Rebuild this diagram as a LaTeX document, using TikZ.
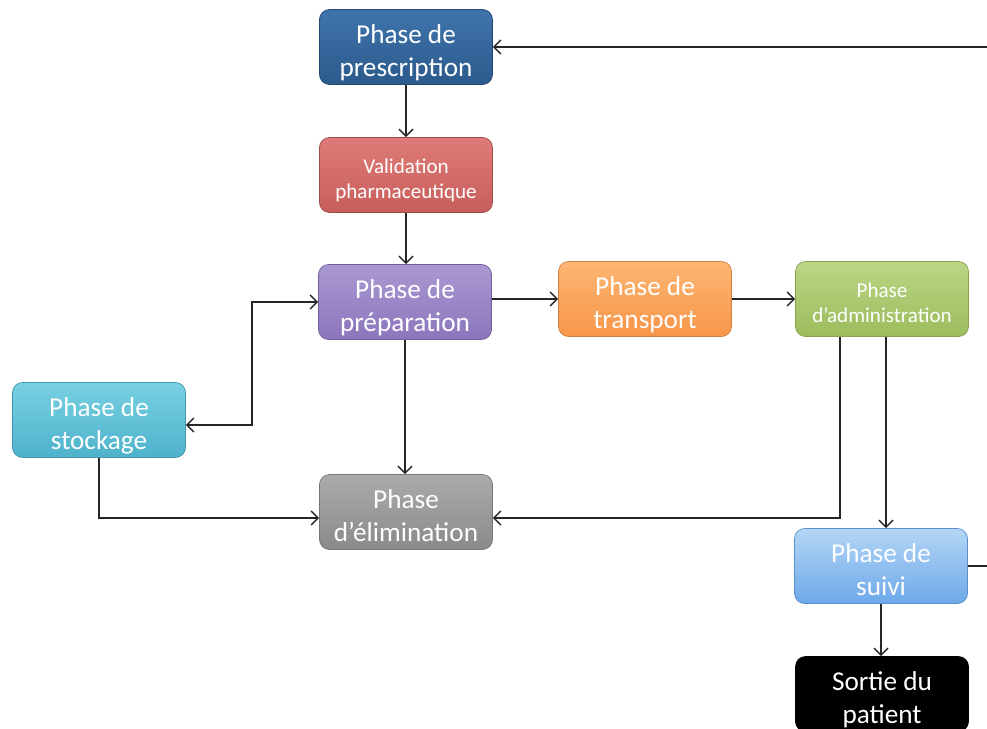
\documentclass[tikz,border=0pt]{standalone}
\usepackage{fontspec}
\setmainfont{Carlito}
\usetikzlibrary{arrows.meta,calc}
\definecolor{prescA}{HTML}{3F74AC}
\definecolor{prescB}{HTML}{2C5A8C}
\definecolor{validA}{HTML}{DE7B78}
\definecolor{validB}{HTML}{C85E5B}
\definecolor{prepA}{HTML}{AA98D2}
\definecolor{prepB}{HTML}{8C76BC}
\definecolor{transA}{HTML}{FDB672}
\definecolor{transB}{HTML}{F7964A}
\definecolor{adminA}{HTML}{BCD686}
\definecolor{adminB}{HTML}{9CBC5C}
\definecolor{stockA}{HTML}{78D0E2}
\definecolor{stockB}{HTML}{4EB2CB}
\definecolor{elimA}{HTML}{ABABAB}
\definecolor{elimB}{HTML}{8A8A8A}
\definecolor{suiviA}{HTML}{B4D6F6}
\definecolor{suiviB}{HTML}{6DA8EA}
\tikzset{
  phase/.style={rounded corners=2mm, minimum width=34.6mm, minimum height=15mm,
    align=center, text=white, font=\fontsize{15.5}{19}\selectfont, inner sep=1mm,
    text height=11.9mm, text depth=0pt},
  small/.style={font=\fontsize{12}{14.5}\selectfont, text height=9.5mm},
  link/.style={line width=0.3mm, draw=black!85, -{Straight Barb[length=1.4mm,width=2.8mm]}},
}
\begin{document}
\begin{tikzpicture}[x=0.2mm,y=-0.2mm]
		%%%%% START %%%%%
		\clip (0,0) rectangle (987,728);
		\useasboundingbox (0,0) rectangle (987,728);
		
		\node[phase, top color=prescA, bottom color=prescB, draw=prescB!80!black] (presc) at (406,47) {Phase de\\prescription};
		\node[phase, small, top color=validA, bottom color=validB, draw=validB!80!black] (valid) at (406,175) {Validation\\pharmaceutique};
		\node[phase, top color=prepA, bottom color=prepB, draw=prepB!80!black] (prep) at (405,302) {Phase de\\préparation};
		\node[phase, top color=transA, bottom color=transB, draw=transB!85!black] (trans) at (645,299) {Phase de\\transport};
		\node[phase, small, top color=adminA, bottom color=adminB, draw=adminB!85!black] (admin) at (882,299) {Phase\\d’administration};
		\node[phase, top color=stockA, bottom color=stockB, draw=stockB!85!black] (stock) at (99,420) {Phase de\\stockage};
		\node[phase, top color=elimA, bottom color=elimB, draw=elimB!85!black] (elim) at (406,512) {Phase\\d’élimination};
		\node[phase, top color=suiviA, bottom color=suiviB, draw=suiviB!85!black] (suivi) at (881,566) {Phase de\\suivi};
		\node[phase, fill=black, draw=black] (sortie) at (882,694) {Sortie du\\patient};
		
		\coordinate (edgeTop) at (987,47);
		\coordinate (edgeBot) at (987,566);
		
		% main chain
		\draw[link] (edgeTop) -- (presc.east);
		\draw[link] (presc.south) -- (valid.north);
		\draw[link] (valid.south) -- (valid.south |- prep.north);
		\draw[link] (prep.east |- trans.west) -- (trans.west);
		\draw[link] (trans.east) -- (admin.west);
		\draw[link] (prep.south) -- (prep.south |- elim.north);
		
		% stockage
		\draw[link, {Straight Barb[length=1.4mm,width=2.8mm]}-{Straight Barb[length=1.4mm,width=2.8mm]}]
		  ([yshift=-1mm]stock.east) -| (252,302) -- (prep.west);
		\draw[link] (stock.south) |- ([yshift=-1.2mm]elim.west);
		
		% administration
		\draw[link] ([xshift=-8.4mm]admin.south) |- ([yshift=-1.2mm]elim.east);
		\draw[link] ([xshift=0.8mm]admin.south) -- ([xshift=0.8mm]admin.south |- suivi.north);
		\draw[line width=0.3mm, draw=black!85] (suivi.east) -- (edgeBot);
		\draw[link] (suivi.south) -- (suivi.south |- sortie.north);
		
		%%%%% END %%%%%
\end{tikzpicture}
\end{document}
